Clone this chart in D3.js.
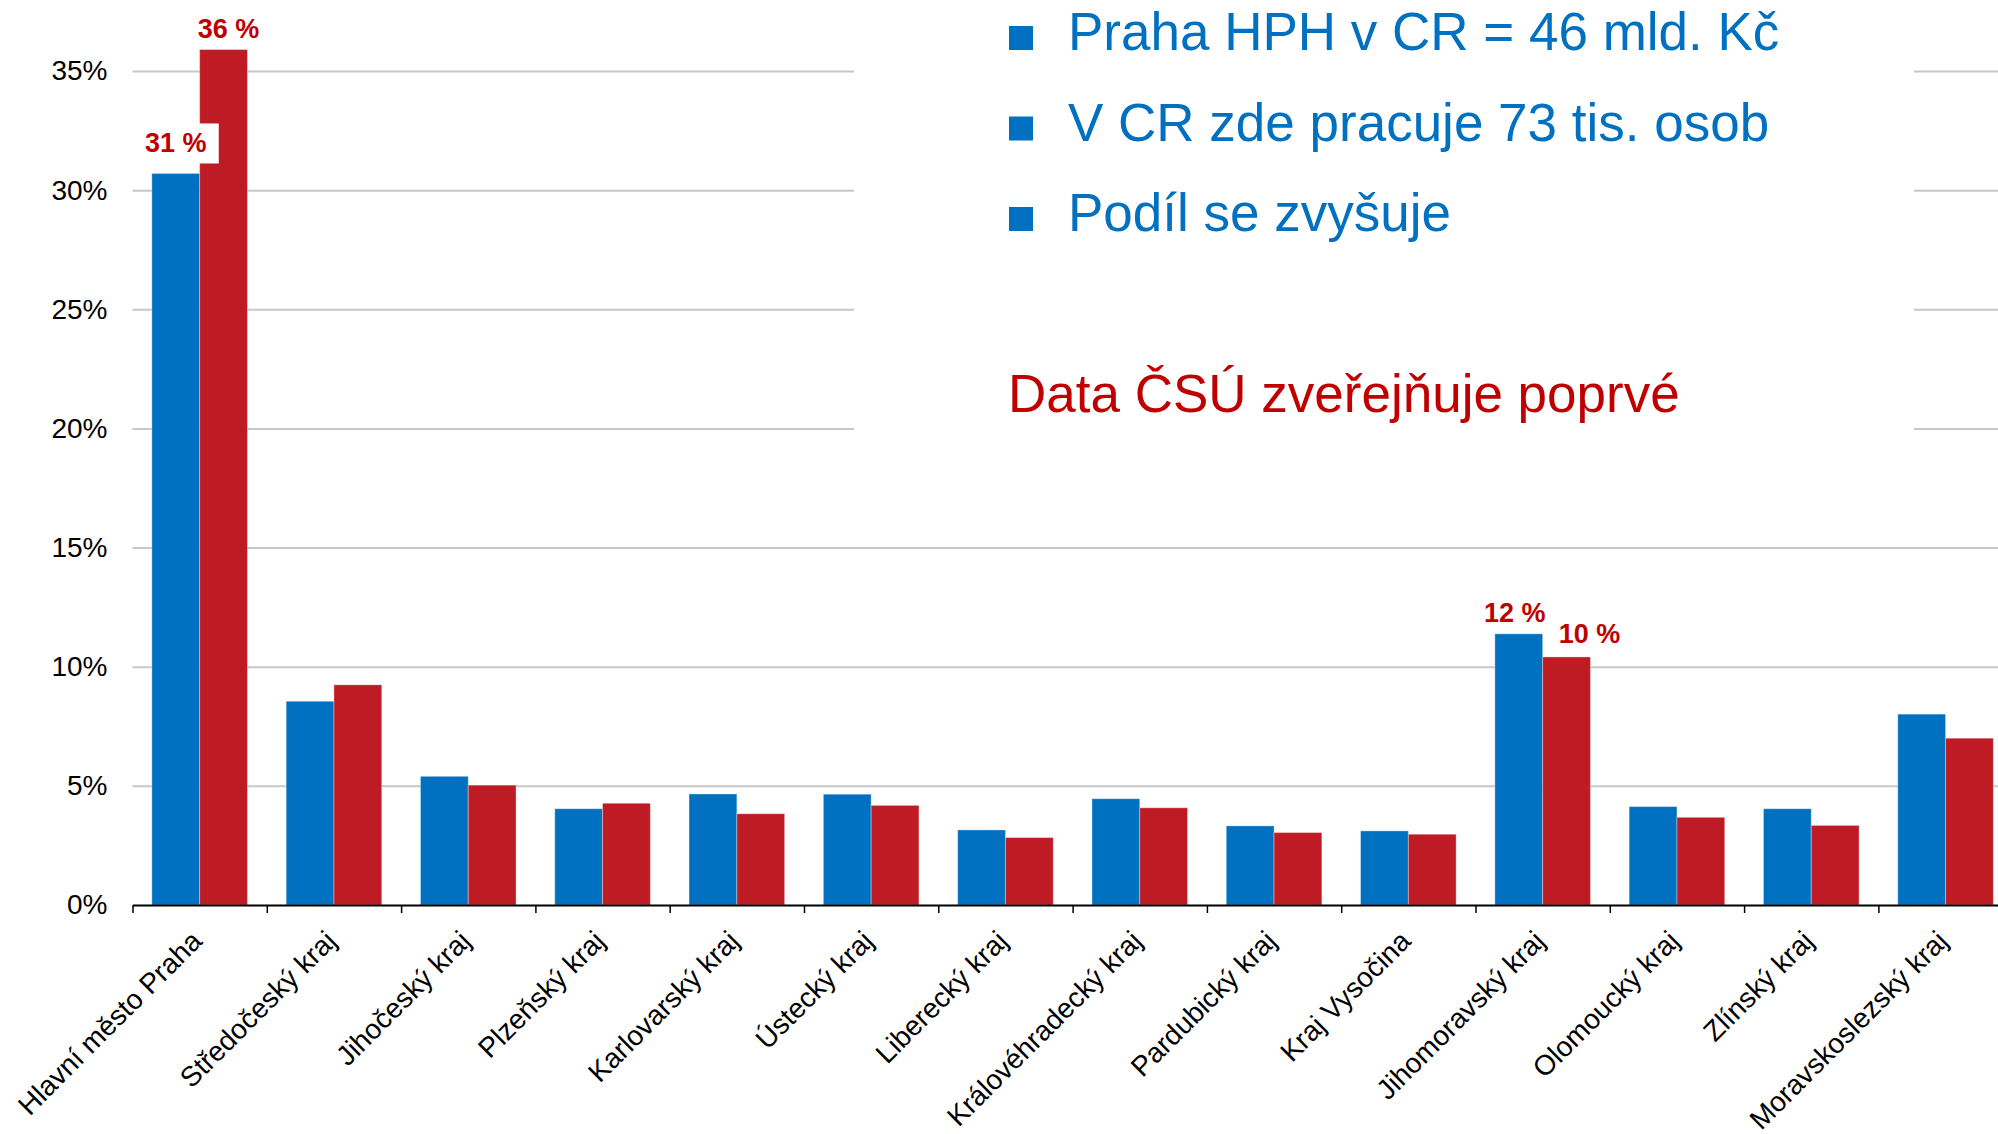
<!DOCTYPE html>
<html>
<head>
<meta charset="utf-8">
<script src="https://cdn.jsdelivr.net/npm/d3@7"></script>
<style>
  body { margin: 0; background: #fff; }
  svg { display: block; font-family: "Liberation Sans", Arial, sans-serif; }
</style>
</head>
<body>
<script>
// regiony (kraje)
var categories = ['Hlavní město Praha', 'Středočeský kraj', 'Jihočeský kraj', 'Plzeňský kraj',
  'Karlovarský kraj', 'Ústecký kraj', 'Liberecký kraj', 'Královéhradecký kraj',
  'Pardubický kraj', 'Kraj Vysočina', 'Jihomoravský kraj', 'Olomoucký kraj',
  'Zlínský kraj', 'Moravskoslezský kraj'];

// podíl kraje (blue series, red series)
var seriesBlue = [0.307, 0.0855, 0.054, 0.0404, 0.0466, 0.0465, 0.0315, 0.0446, 0.0332, 0.0311, 0.1138, 0.0413, 0.0404, 0.0801];
var seriesRed = [0.359, 0.0924, 0.0503, 0.0427, 0.0383, 0.0418, 0.0283, 0.0408, 0.0304, 0.0297, 0.1041, 0.0368, 0.0334, 0.070];
var seriesNames = ['blue', 'red'];

var yTicks = [0, 0.05, 0.10, 0.15, 0.20, 0.25, 0.30, 0.35];

// popisky hodnot
var labelCategory = ['Hlavní město Praha', 'Hlavní město Praha', 'Jihomoravský kraj', 'Jihomoravský kraj'];
var labelSeries = ['blue', 'red', 'blue', 'red'];
var labelText = ['31 %', '36 %', '12 %', '10 %'];

var bulletLines = ['Praha HPH v CR = 46 mld. Kč', 'V CR zde pracuje 73 tis. osob', 'Podíl se zvyšuje'];
var noteText = 'Data ČSÚ zveřejňuje poprvé';

var W = 1998, H = 1134;
var left = 132.5, step = 134.3, base = 905, top35 = 71;

var svg = d3.select('body').append('svg').attr('width', W).attr('height', H);

var x0 = d3.scaleBand().domain(categories).range([left, left + step * categories.length]).padding(0);
var x1 = d3.scaleBand().domain(seriesNames).range([0, x0.bandwidth()]).paddingInner(0).paddingOuter(0.405);
var y = d3.scaleLinear().domain([0, 0.35]).range([base, top35]);
var color = d3.scaleOrdinal().domain(seriesNames).range(['#0070c0', '#be1b24']);

// gridlines
svg.append('g')
   .attr('transform', 'translate(' + left + ',0)')
   .call(d3.axisLeft(y).tickValues(yTicks.slice(1)).tickSize(-(W - left)).tickFormat(''))
   .call(function(g) { g.select('.domain').remove(); })
   .selectAll('line').attr('stroke', '#c8c8c8').attr('stroke-width', 2);

// y labels
svg.append('g')
   .attr('transform', 'translate(' + left + ',0)')
   .call(d3.axisLeft(y).tickValues(yTicks).tickSize(0).tickPadding(25).tickFormat(d3.format('.0%')))
   .call(function(g) { g.select('.domain').remove(); })
   .selectAll('text').attr('font-size', 28).attr('fill', '#000').attr('font-family', '"Liberation Sans", Arial, sans-serif');

// text box (white background over the grid)
svg.append('rect').attr('x', 854).attr('y', 0).attr('width', 1060).attr('height', 470).attr('fill', '#fff');

// bars
var rows = categories.map(function(c, i) { return { cat: c, vals: [seriesBlue[i], seriesRed[i]] }; });
var groups = svg.selectAll('g.cat')
   .data(rows)
   .enter()
   .append('g')
   .attr('class', 'cat')
   .attr('transform', function(d) { return 'translate(' + x0(d.cat) + ',0)'; });

groups.selectAll('rect')
   .data(function(d) { return d.vals.map(function(v, j) { return { key: seriesNames[j], v: v }; }); })
   .enter()
   .append('rect')
   .attr('x', function(d) { return x1(d.key); })
   .attr('y', function(d) { return y(d.v); })
   .attr('width', x1.bandwidth())
   .attr('height', function(d) { return base - y(d.v); })
   .attr('fill', function(d) { return color(d.key); })
   .attr('stroke', 'rgba(255,255,255,0.35)')
   .attr('stroke-width', 1);

// x axis with ticks between categories
var xb = d3.scaleLinear().domain([0, categories.length]).range([left, left + step * categories.length]);
svg.append('g')
   .attr('transform', 'translate(0,' + base + ')')
   .call(d3.axisBottom(xb).tickValues(d3.range(categories.length + 1)).tickSize(8).tickSizeOuter(0).tickFormat(''))
   .call(function(g) {
      g.select('.domain').attr('stroke', '#000').attr('stroke-width', 2);
      g.selectAll('line').attr('stroke', '#000').attr('stroke-width', 1.5);
   });

svg.selectAll('text.cat')
   .data(categories)
   .enter()
   .append('text')
   .attr('class', 'cat')
   .attr('transform', function(d) { return 'translate(' + (x0(d) + x0.bandwidth() / 2 - 11) + ',928) rotate(-45)'; })
   .attr('text-anchor', 'end')
   .attr('dy', '0.75em')
   .attr('font-size', 28)
   .attr('fill', '#000')
   .text(function(d) { return d; });

// value labels
var labelDx = [0, 5, -4, 23];
var labelGap = [21, 12, 12, 14];
labelText.forEach(function(t, k) {
  var i = categories.indexOf(labelCategory[k]);
  var v = labelSeries[k] === 'blue' ? seriesBlue[i] : seriesRed[i];
  var cx = x0(labelCategory[k]) + x1(labelSeries[k]) + x1.bandwidth() / 2 + labelDx[k];
  var ty = y(v) - labelGap[k];
  if (k === 0) {
    svg.append('rect').attr('x', cx - 41).attr('y', ty - 29).attr('width', 84).attr('height', 40).attr('fill', '#fff');
  }
  svg.append('text')
     .attr('x', cx).attr('y', ty)
     .attr('text-anchor', 'middle')
     .attr('font-size', 27)
     .attr('font-weight', 'bold')
     .attr('fill', '#c00000')
     .text(t);
});

// bullets
var bl = svg.selectAll('g.bullet')
   .data(bulletLines)
   .enter()
   .append('g')
   .attr('class', 'bullet')
   .attr('transform', function(d, i) { return 'translate(0,' + (50 + i * 90.5) + ')'; });
bl.append('rect').attr('x', 1009).attr('y', -24).attr('width', 24).attr('height', 24).attr('fill', '#0070c0');
bl.append('text').attr('x', 1068).attr('y', 0).attr('font-size', 53).attr('fill', '#0070c0').text(function(d) { return d; });

svg.append('text')
   .attr('x', 1008).attr('y', 412)
   .attr('font-size', 53)
   .attr('fill', '#c00000')
   .text(noteText);
</script>
</body>
</html>
